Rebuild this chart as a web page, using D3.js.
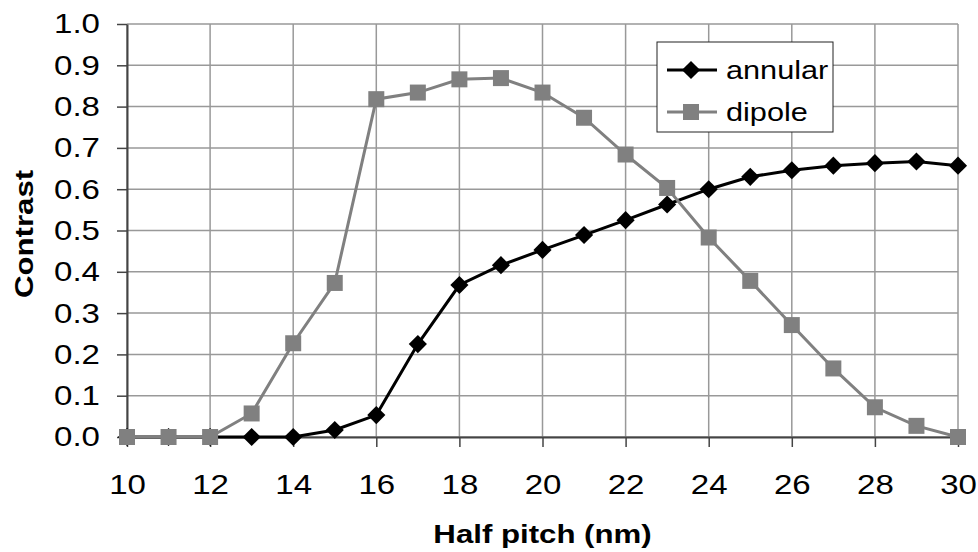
<!DOCTYPE html>
<html>
<head>
<meta charset="utf-8">
<script src="https://cdn.jsdelivr.net/npm/d3@7"></script>
<style>
  body { margin: 0; background: #fff; }
  text { font-family: Arial, "Liberation Sans", sans-serif; fill: #000; }
</style>
</head>
<body>
<div id="chart"></div>
<script>
var svgWidth = 978;
var svgHeight = 552;

var margin = { top: 24, right: 20, bottom: 115, left: 127 };
var width = 958 - margin.left;
var height = 437 - margin.top;

// the original lettering is wider than Arial
var stretch = 1.18;

// half pitch values (nm)
var halfPitch = [10, 11, 12, 13, 14, 15, 16, 17, 18, 19, 20, 21, 22, 23, 24, 25, 26, 27, 28, 29, 30];
var annular = [0, 0, 0, 0, 0, 0.017, 0.053, 0.225, 0.368, 0.416, 0.453, 0.489, 0.525, 0.563, 0.600, 0.630, 0.646, 0.657, 0.663, 0.667, 0.657];
var dipole = [0, 0, 0, 0.057, 0.227, 0.373, 0.818, 0.834, 0.866, 0.869, 0.834, 0.773, 0.684, 0.603, 0.483, 0.378, 0.271, 0.166, 0.072, 0.027, 0];
var xTicks = [10, 12, 14, 16, 18, 20, 22, 24, 26, 28, 30];
var yTicks = [0, 0.1, 0.2, 0.3, 0.4, 0.5, 0.6, 0.7, 0.8, 0.9, 1.0];

var svg = d3.select("#chart")
  .append("svg")
  .attr("width", svgWidth)
  .attr("height", svgHeight);

var chartGroup = svg.append("g")
  .attr("transform", `translate(${margin.left}, ${margin.top})`);

var xScale = d3.scaleLinear().domain([10, 30]).range([0, width]);
var yScale = d3.scaleLinear().domain([0, 1]).range([height, 0]);

// gridlines
chartGroup.append("g")
  .selectAll("line")
  .data(yTicks)
  .enter()
  .append("line")
  .attr("x1", 0)
  .attr("x2", width)
  .attr("y1", d => yScale(d))
  .attr("y2", d => yScale(d))
  .attr("stroke", "#999")
  .attr("stroke-width", 1.5);

chartGroup.append("g")
  .selectAll("line")
  .data(xTicks)
  .enter()
  .append("line")
  .attr("x1", d => xScale(d))
  .attr("x2", d => xScale(d))
  .attr("y1", 0)
  .attr("y2", height)
  .attr("stroke", "#999")
  .attr("stroke-width", 1.5);

// axes
var bottomAxis = d3.axisBottom(xScale).tickValues(xTicks).tickSize(10).tickPadding(27).tickSizeOuter(0);
var leftAxis = d3.axisLeft(yScale).tickValues(yTicks).tickSize(10).tickSizeOuter(0).tickFormat(d3.format(".1f"));

var xAxis = chartGroup.append("g")
  .attr("transform", `translate(0, ${height})`)
  .call(bottomAxis);

var yAxis = chartGroup.append("g")
  .call(leftAxis);

[xAxis, yAxis].forEach(function(ax) {
  ax.select(".domain").attr("stroke", "#444").attr("stroke-width", 2);
  ax.selectAll(".tick line").attr("stroke", "#444").attr("stroke-width", 1.5);
  ax.selectAll(".tick text")
    .attr("font-family", "Arial, 'Liberation Sans', sans-serif")
    .attr("font-size", 28)
    .attr("fill", "#000");
});

xAxis.selectAll(".tick text")
  .attr("transform", `scale(${stretch}, 1)`);

yAxis.selectAll(".tick text")
  .attr("x", 0)
  .attr("transform", `translate(-27, 0) scale(${stretch}, 1)`);

// lines
var line = d3.line()
  .x(d => xScale(d[0]))
  .y(d => yScale(d[1]));

var annularData = halfPitch.map((x, i) => [x, annular[i]]);
var dipoleData = halfPitch.map((x, i) => [x, dipole[i]]);

var diamond = d3.symbol().type(d3.symbolDiamond2).size(210);
var square = d3.symbol().type(d3.symbolSquare).size(256);

chartGroup.append("path")
  .datum(annularData)
  .attr("fill", "none")
  .attr("stroke", "#000")
  .attr("stroke-width", 3)
  .attr("d", line);

chartGroup.append("g")
  .selectAll("path")
  .data(annularData)
  .enter()
  .append("path")
  .attr("transform", d => `translate(${xScale(d[0])}, ${yScale(d[1])})`)
  .attr("d", diamond())
  .attr("fill", "#000");

chartGroup.append("path")
  .datum(dipoleData)
  .attr("fill", "none")
  .attr("stroke", "#808080")
  .attr("stroke-width", 3)
  .attr("d", line);

chartGroup.append("g")
  .selectAll("path")
  .data(dipoleData)
  .enter()
  .append("path")
  .attr("transform", d => `translate(${xScale(d[0])}, ${yScale(d[1])})`)
  .attr("d", square())
  .attr("fill", "#808080");

// legend
var legend = svg.append("g")
  .attr("transform", "translate(657, 42)");

legend.append("rect")
  .attr("width", 176)
  .attr("height", 90)
  .attr("fill", "#fff")
  .attr("stroke", "#222")
  .attr("stroke-width", 1);

var legendItems = [
  { name: "annular", color: "#000", symbol: diamond },
  { name: "dipole", color: "#808080", symbol: square }
];

var items = legend.selectAll(".item")
  .data(legendItems)
  .enter()
  .append("g")
  .attr("transform", (d, i) => `translate(0, ${28 + i * 42})`);

items.append("line")
  .attr("x1", 10)
  .attr("x2", 60)
  .attr("stroke", d => d.color)
  .attr("stroke-width", 3);

items.append("path")
  .attr("transform", "translate(34, 0)")
  .attr("d", d => d.symbol())
  .attr("fill", d => d.color);

items.append("text")
  .attr("transform", `translate(69, 0) scale(${stretch}, 1)`)
  .attr("dy", "0.33em")
  .attr("font-size", 26)
  .text(d => d.name);

// axis titles
svg.append("text")
  .attr("transform", `translate(${margin.left + width / 2}, 543) scale(1.2, 1)`)
  .attr("text-anchor", "middle")
  .attr("font-size", 26)
  .attr("font-weight", "bold")
  .text("Half pitch (nm)");

svg.append("text")
  .attr("transform", `translate(33, 234) rotate(-90) scale(1.2, 1)`)
  .attr("text-anchor", "middle")
  .attr("font-size", 26)
  .attr("font-weight", "bold")
  .text("Contrast");
</script>
</body>
</html>
